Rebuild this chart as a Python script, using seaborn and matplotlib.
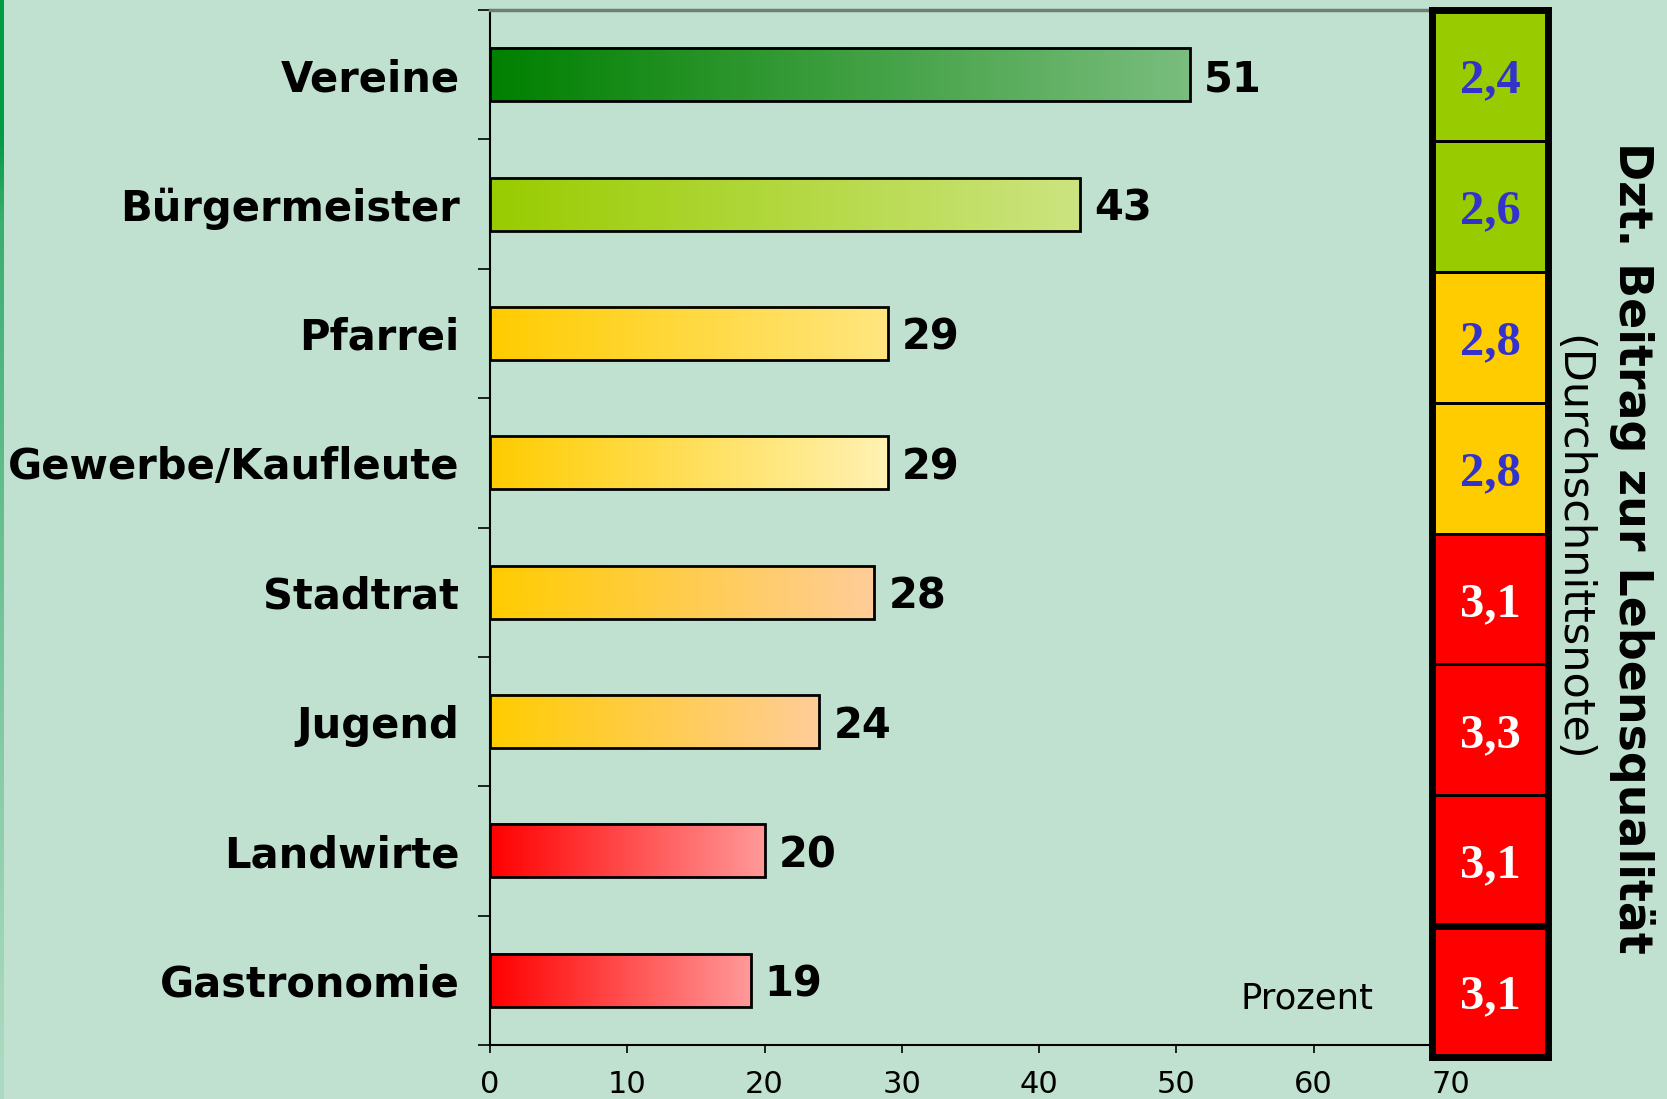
import numpy as np
import pandas as pd
import seaborn as sns
import matplotlib.pyplot as plt
from matplotlib.colors import LinearSegmentedColormap, ListedColormap, BoundaryNorm

categories = ["Vereine", "Bürgermeister", "Pfarrei", "Gewerbe/Kaufleute",
              "Stadtrat", "Jugend", "Landwirte", "Gastronomie"]
percent = [51, 43, 29, 29, 28, 24, 20, 19]
notes = [2.4, 2.6, 2.8, 2.8, 3.1, 3.3, 3.1, 3.1]
note_labels = ["2,4", "2,6", "2,8", "2,8", "3,1", "3,3", "3,1", "3,1"]
x_ticks = [0, 10, 20, 30, 40, 50, 60, 70]

bar_start = ["#008000", "#99CC00", "#FFCC00", "#FFCC00", "#FFCC00", "#FFCC00", "#FF0000", "#FF0000"]
bar_end = ["#7ABD7E", "#CCE480", "#FFE680", "#FFF2B3", "#FFCC99", "#FFCC99", "#FF9999", "#FF9999"]
note_colors = ["#99CC00", "#FFCC00", "#FF0000"]

bg = "#C0E1D0"
W, H = 1667, 1099

sns.set_theme(style="white")
plt.rcParams['font.family'] = ['DejaVu Sans']
plt.rcParams['text.color'] = 'black'

fig = plt.figure(figsize=(W / 100, H / 100), dpi=100, facecolor=bg)

# green stripe on the far left
sax = fig.add_axes([0, 0, 4 / W, 1])
alpha = np.interp(np.linspace(0, 1, 200), [0, 0.12, 0.2, 0.5, 0.9, 1], [1, 1, 0.7, 0.45, 0.15, 0.1])
strip = np.zeros((200, 1, 4))
strip[:, 0, :3] = [0 / 255, 153 / 255, 68 / 255]
strip[:, 0, 3] = alpha
sax.imshow(strip, aspect="auto", extent=[0, 1, 0, 1])
sax.axis("off")

ax = fig.add_axes([490 / W, 1 - 1045 / H, (1451 - 490) / W, (1045 - 10) / H])
ax.set_facecolor(bg)

df = pd.DataFrame({"Kategorie": categories, "Prozent": percent})
sns.barplot(data=df, x="Prozent", y="Kategorie", orient="h", width=0.41,
            color="white", edgecolor="black", linewidth=2, ax=ax)

for i, patch in enumerate(ax.patches):
    x0, y0 = patch.get_x(), patch.get_y()
    w, h = patch.get_width(), patch.get_height()
    cmap = LinearSegmentedColormap.from_list("g%d" % i, [bar_start[i], bar_end[i]])
    ax.imshow(np.linspace(0, 1, 256).reshape(1, -1), cmap=cmap, aspect="auto",
              extent=[x0, x0 + w, y0 + h, y0], zorder=1)
    patch.set_facecolor("none")
    patch.set_zorder(2)
    ax.annotate(str(percent[i]), (x0 + w, y0 + h / 2), xytext=(10, 0),
                textcoords="offset points", ha="left", va="center_baseline",
                fontsize=30, fontweight="bold", color="black")

ax.set_xlim(0, 70)
ax.set_ylim(7.5, -0.5)
ax.set_xticks(x_ticks)
ax.set_xticklabels([str(t) for t in x_ticks], fontsize=22)
ax.set_yticks(range(len(categories)))
ax.set_yticklabels(categories, fontsize=30, fontweight="bold")
ax.set_yticks(np.arange(-0.5, 8, 1), minor=True)
ax.tick_params(axis="y", which="major", length=0, pad=22, labelcolor="black")
ax.tick_params(axis="y", which="minor", left=True, length=9, width=1.2, color="black")
ax.tick_params(axis="x", bottom=True, length=6, width=1.2, color="black", pad=12, labelcolor="black")
ax.set_xlabel("")
ax.set_ylabel("")

for side in ["left", "bottom"]:
    ax.spines[side].set_color("black")
    ax.spines[side].set_linewidth(1.5)
ax.spines["top"].set_color("#6F7F75")
ax.spines["top"].set_linewidth(2.5)
ax.spines["right"].set_visible(False)

ax.text(0.85, 0.045, "Prozent", transform=ax.transAxes, ha="center", va="center",
        fontsize=25.5, color="black")

# note column on the right
bax = fig.add_axes([1432 / W, 1 - 1057 / H, 116 / W, 1047 / H])
note_arr = np.array(notes).reshape(-1, 1)
sns.heatmap(note_arr, cmap=ListedColormap(note_colors), norm=BoundaryNorm([0, 2.7, 3.0, 5], 3),
            cbar=False, linewidths=2, linecolor="black",
            annot=np.array(note_labels).reshape(-1, 1), fmt="",
            annot_kws={"family": "Liberation Serif", "weight": "bold", "size": 35},
            xticklabels=False, yticklabels=False, ax=bax)
for t, n in zip(bax.texts, notes):
    t.set_color("#3333CC" if n < 3 else "white")
    t.set_verticalalignment("center_baseline")
for s in bax.spines.values():
    s.set_visible(True)
    s.set_color("black")
    s.set_linewidth(5)
bax.axhline(7, color="black", linewidth=5)

fig.text(1632 / W, 1 - 548 / H, "Dzt. Beitrag zur Lebensqualität", rotation=-90,
         ha="center", va="center", fontsize=33, fontweight="bold", color="black")
fig.text(1572 / W, 1 - 548 / H, "(Durchschnittsnote)", rotation=-90,
         ha="center", va="center", fontsize=31, color="black")

fig.savefig("out.png", dpi=100, facecolor=bg)
